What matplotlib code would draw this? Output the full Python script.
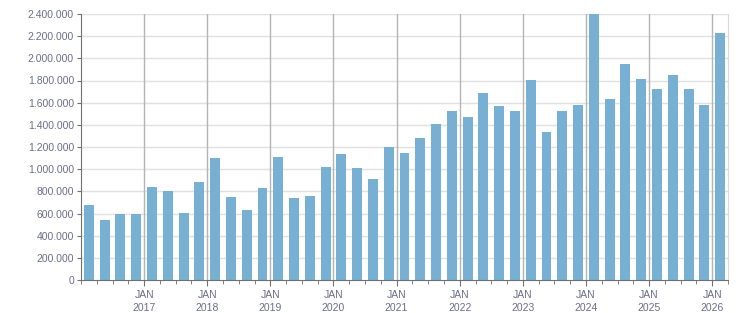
import numpy as np
import matplotlib.pyplot as plt
from matplotlib.ticker import FuncFormatter

# quarterly values, Q1 2016 .. Q1 2026
values = [
    680000, 545000, 598000, 600000,      # 2016
    841000, 805000, 607000, 886000,      # 2017
    1102000, 751000, 634000, 832000,     # 2018
    1111000, 742000, 760000, 1021000,    # 2019
    1139000, 1012000, 913000, 1202000,   # 2020
    1148000, 1283000, 1409000, 1526000,  # 2021
    1472000, 1688000, 1571000, 1526000,  # 2022
    1805000, 1337000, 1526000, 1580000,  # 2023
    2400000, 1634000, 1950000, 1814000,  # 2024
    1724000, 1850000, 1724000, 1580000,  # 2025
    2229000,                             # 2026
]
years = [2017, 2018, 2019, 2020, 2021, 2022, 2023, 2024, 2025, 2026]
y_ticks = np.arange(0, 2400001, 200000)

bar_color = "#78b0d3"
text_color = "#6c6c88"

fig = plt.figure(figsize=(7.51, 3.13), dpi=100)
ax = fig.add_axes([81 / 751, 33 / 313, (728 - 81) / 751, (280 - 14) / 313])

n = len(values)
x = np.arange(n) + 0.5
ax.bar(x, values, width=0.63, color=bar_color, zorder=3)

ax.set_xlim(0, 41)
ax.set_ylim(0, 2400000)

# horizontal grid
ax.set_yticks(y_ticks)
ax.yaxis.set_major_formatter(FuncFormatter(lambda v, p: f"{int(v):,}".replace(",", ".")))
for v in y_ticks[1:]:
    ax.axhline(v, color="#e0e0e0", lw=1, zorder=1)

# year lines
year_pos = [(y - 2016) * 4 for y in years]
for p in year_pos:
    ax.axvline(p, color="#b4b4b4", lw=1, zorder=2)

ax.set_xticks(year_pos)
ax.set_xticklabels([f"JAN\n{y}" for y in years], linespacing=1.45)
ax.set_xticks(np.arange(0, 42), minor=True)

for s in ["top"]:
    ax.spines[s].set_visible(False)
ax.spines["right"].set_color("#d8d8d8")
ax.spines["left"].set_color("#707070")
ax.spines["bottom"].set_color("#707070")
ax.spines["left"].set_zorder(4)
ax.spines["bottom"].set_zorder(4)

ax.tick_params(axis="y", colors="#707070", labelcolor=text_color, length=3, pad=2,
               labelsize=7.5)
ax.tick_params(axis="x", which="major", colors="#707070", labelcolor=text_color,
               length=4, pad=3, labelsize=7.5)
ax.tick_params(axis="x", which="minor", colors="#707070", length=3)
for lbl in ax.get_xticklabels() + ax.get_yticklabels():
    lbl.set_family("Liberation Sans")

fig.savefig("out.png", dpi=100)
